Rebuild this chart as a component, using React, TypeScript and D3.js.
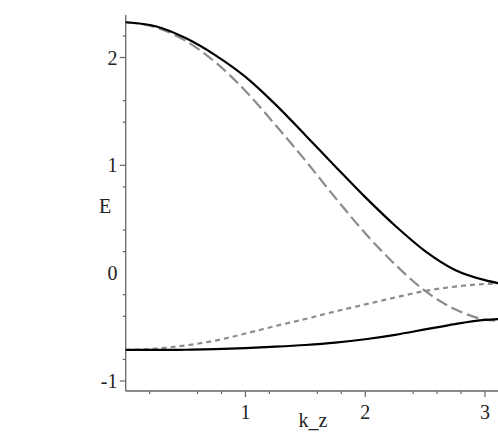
import * as d3 from "d3";
import { useEffect, useRef } from "react";

// k_z sample points shared by all curves
const kz = [0, 0.25, 0.5, 0.75, 1.0, 1.25, 1.5, 1.75, 2.0, 2.25, 2.5, 2.75, 3.0, 3.1416];

// upper coupled branch (solid black)
const upperSolid = [2.327, 2.29, 2.18, 2.02, 1.82, 1.565, 1.28, 0.99, 0.705, 0.44, 0.205, 0.03, -0.065, -0.1];
// lower coupled branch (solid black)
const lowerSolid = [-0.712, -0.712, -0.71, -0.705, -0.695, -0.682, -0.666, -0.644, -0.613, -0.572, -0.522, -0.472, -0.434, -0.425];
// uncoupled band (long dashes, grey)
const dashedBand = [2.327, 2.28, 2.155, 1.955, 1.69, 1.375, 1.045, 0.7, 0.37, 0.08, -0.165, -0.335, -0.43, -0.445];
// uncoupled band (short dashes, grey)
const dottedBand = [-0.712, -0.7, -0.67, -0.625, -0.56, -0.49, -0.425, -0.355, -0.29, -0.225, -0.165, -0.125, -0.1, -0.095];

const xMajor = [1, 2, 3];
const xMinor = [0.2, 0.6, 0.8, 1.2, 1.6, 1.8, 2.4, 2.6, 2.8];
const yMajor = [2, 1, -1];
const yLabels = [2, 1, 0, -1];
const yMinor = [2.2, 1.6, 1.4, 0.8, 0.4, 0.2, -0.2, -0.4, -0.8];

const W = 498;
const H = 441;

const App = () => {
  const svgRef = useRef(null);

  useEffect(() => {
    const svg = d3.select(svgRef.current);
    svg.selectAll("*").remove();

    const axisX = 125.7;
    const axisY = 391;

    const x = d3.scaleLinear().domain([0, 3]).range([axisX, 485]);
    const y = d3.scaleLinear().domain([-1, 2]).range([381, 57.5]);

    const font = "Liberation Serif, DejaVu Serif, serif";
    const axisColor = "#666";
    const textColor = "#222";

    // axes lines
    svg.append("line")
      .attr("x1", axisX).attr("x2", axisX)
      .attr("y1", 15).attr("y2", axisY)
      .attr("stroke", axisColor).attr("stroke-width", 1.3);
    svg.append("line")
      .attr("x1", axisX).attr("x2", W)
      .attr("y1", axisY).attr("y2", axisY)
      .attr("stroke", axisColor).attr("stroke-width", 1.3);

    // x ticks
    svg.selectAll(".xmaj").data(xMajor).enter().append("line")
      .attr("x1", (d) => x(d)).attr("x2", (d) => x(d))
      .attr("y1", axisY).attr("y2", axisY + 6)
      .attr("stroke", axisColor).attr("stroke-width", 1.2);
    svg.selectAll(".xmin").data(xMinor).enter().append("line")
      .attr("x1", (d) => x(d)).attr("x2", (d) => x(d))
      .attr("y1", axisY).attr("y2", axisY + 3)
      .attr("stroke", axisColor).attr("stroke-width", 1.2);
    svg.selectAll(".xlab").data(xMajor).enter().append("text")
      .attr("x", (d) => x(d)).attr("y", 419)
      .attr("text-anchor", "middle")
      .style("font-family", font).style("font-size", "20px")
      .attr("fill", textColor)
      .text((d) => d);

    // y ticks
    svg.selectAll(".ymaj").data(yMajor).enter().append("line")
      .attr("x1", axisX - 6).attr("x2", axisX)
      .attr("y1", (d) => y(d)).attr("y2", (d) => y(d))
      .attr("stroke", axisColor).attr("stroke-width", 1.2);
    svg.selectAll(".ymin").data(yMinor).enter().append("line")
      .attr("x1", axisX - 3).attr("x2", axisX)
      .attr("y1", (d) => y(d)).attr("y2", (d) => y(d))
      .attr("stroke", axisColor).attr("stroke-width", 1.2);
    svg.selectAll(".ylab").data(yLabels).enter().append("text")
      .attr("x", 117.5).attr("y", (d) => y(d) + 7)
      .attr("text-anchor", "end")
      .style("font-family", font).style("font-size", "20px")
      .attr("fill", textColor)
      .text((d) => d);

    // axis titles
    svg.append("text")
      .attr("x", 313).attr("y", 427)
      .attr("text-anchor", "middle")
      .style("font-family", font).style("font-size", "20px")
      .attr("fill", textColor)
      .text("k_z");
    svg.append("text")
      .attr("x", 105).attr("y", 213)
      .attr("text-anchor", "middle")
      .style("font-family", font).style("font-size", "20px")
      .attr("fill", textColor)
      .text("E");

    // curves
    const line = d3.line()
      .x((d) => x(d[0]))
      .y((d) => y(d[1]))
      .curve(d3.curveMonotoneX);

    const series = [
      { values: dashedBand, color: "#8c8c8c", dash: "12,5" },
      { values: dottedBand, color: "#8c8c8c", dash: "5,4" },
      { values: upperSolid, color: "#000", dash: null },
      { values: lowerSolid, color: "#000", dash: null },
    ];

    series.forEach((s) => {
      svg.append("path")
        .datum(kz.map((k, i) => [k, s.values[i]]))
        .attr("d", line)
        .attr("fill", "none")
        .attr("stroke", s.color)
        .attr("stroke-width", 2.2)
        .attr("stroke-dasharray", s.dash);
    });
  }, []);

  return (
    <svg
      ref={svgRef}
      width={W}
      height={H}
      style={{ position: "absolute", left: 0, top: 0, background: "#fff" }}
    ></svg>
  );
};

export default App;
